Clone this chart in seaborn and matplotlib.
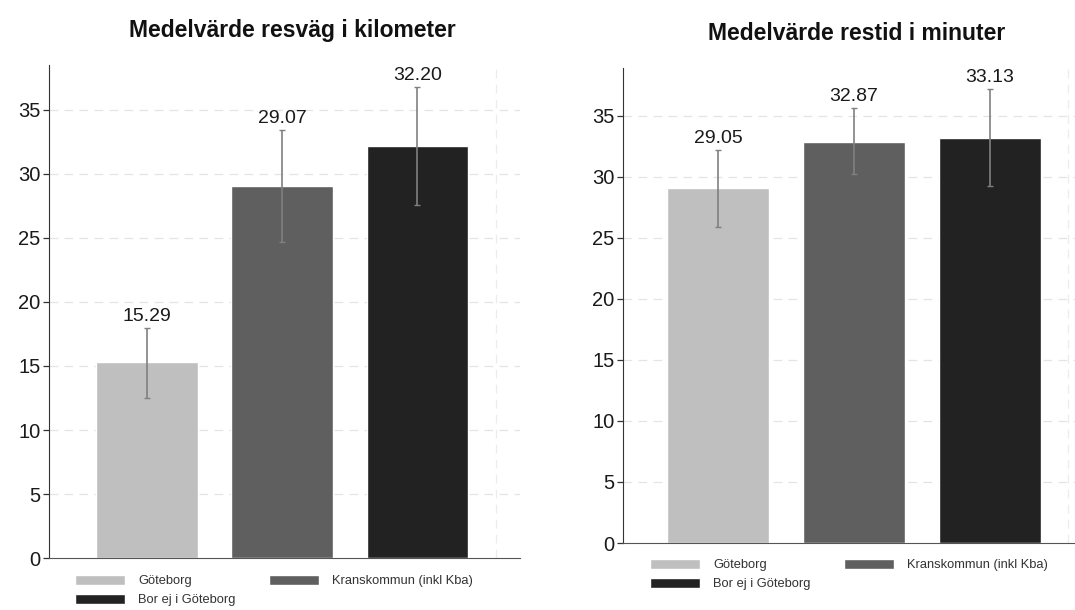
import numpy as np
import pandas as pd
import matplotlib
matplotlib.use("Agg")
import matplotlib.pyplot as plt
import seaborn as sns
from matplotlib.patches import Patch

# data
groups = ['Göteborg', 'Kranskommun (inkl Kba)', 'Bor ej i Göteborg']
colors = ['#bfbfbf', '#5f5f5f', '#222222']

km_mean = [15.29, 29.07, 32.20]
km_lo = [12.5, 24.7, 27.6]
km_hi = [18.0, 33.4, 36.8]

min_mean = [29.05, 32.87, 33.13]
min_lo = [25.9, 30.2, 29.2]
min_hi = [32.2, 35.6, 37.2]

sns.set_style("white")
plt.rcParams['font.family'] = ['Liberation Sans', 'DejaVu Sans']

fig = plt.figure(figsize=(10.75, 6.1), dpi=100)
ax1 = fig.add_axes([0.0456, 0.0852, 0.438, 0.808])
ax2 = fig.add_axes([0.5795, 0.1098, 0.4205, 0.7787])


def draw_panel(ax, means, lo, hi, ytop, xlim, vline):
    df = pd.DataFrame({'grupp': groups, 'medel': means})
    sns.barplot(data=df, x='grupp', y='medel', hue='grupp', palette=colors,
                order=groups, hue_order=groups, width=0.75, errorbar=None,
                legend=False, ax=ax, zorder=2)
    m = np.array(means)
    yerr = [m - np.array(lo), np.array(hi) - m]
    ax.errorbar(np.arange(len(groups)), m, yerr=yerr, fmt='none',
                ecolor='#808080', elinewidth=1.2, capsize=2.5, capthick=1.0,
                zorder=3)
    for i, (v, h) in enumerate(zip(means, hi)):
        ax.annotate(f'{v:.2f}', (i, h), xytext=(0, 5), textcoords='offset points',
                    ha='center', va='baseline', fontsize=14, color='#1a1a1a')
    ax.set_ylim(0, ytop)
    ax.set_xlim(*xlim)
    ax.set_yticks([0, 5, 10, 15, 20, 25, 30, 35])
    for t in [5, 10, 15, 20, 25, 30, 35]:
        ax.axhline(t, color='#e4e4e4', lw=0.9, ls=(0, (7, 5)), zorder=0)
    ax.axvline(vline, color='#ececec', lw=0.9, ls=(0, (7, 5)), zorder=0)
    ax.set_xlabel('')
    ax.set_ylabel('')
    ax.set_xticks([])
    sns.despine(ax=ax, top=True, right=True)
    ax.spines['left'].set_color('#333333')
    ax.spines['bottom'].set_color('#555555')
    ax.tick_params(axis='y', direction='out', length=4, width=0.9,
                   color='#333333', labelsize=14.5, labelcolor='#1a1a1a', pad=2,
                   left=True)


draw_panel(ax1, km_mean, km_lo, km_hi, 38.5, (-0.726, 2.76), 2.58)
draw_panel(ax2, min_mean, min_lo, min_hi, 38.9, (-0.70, 2.625), 2.57)

fig.text(0.272, 0.95, 'Medelvärde resväg i kilometer', ha='center', va='center',
         fontsize=16.5, fontweight='bold', color='#111111')
fig.text(0.797, 0.945, 'Medelvärde restid i minuter', ha='center', va='center',
         fontsize=16.5, fontweight='bold', color='#111111')

handles = [Patch(facecolor=colors[0]), Patch(facecolor=colors[2]), Patch(facecolor=colors[1])]
labels = [groups[0], groups[2], groups[1]]
for x0, y0 in [(75 / 1075, 35 / 610), (650 / 1075, 51 / 610)]:
    fig.legend(handles, labels, loc='upper left', bbox_to_anchor=(x0, y0),
               ncol=2, frameon=False, fontsize=9.3, handlelength=3.87,
               handleheight=0.8, handletextpad=1.0, columnspacing=2.6,
               labelspacing=0.5, borderpad=0, borderaxespad=0,
               labelcolor='#333333')

fig.savefig('out.png', dpi=100)
